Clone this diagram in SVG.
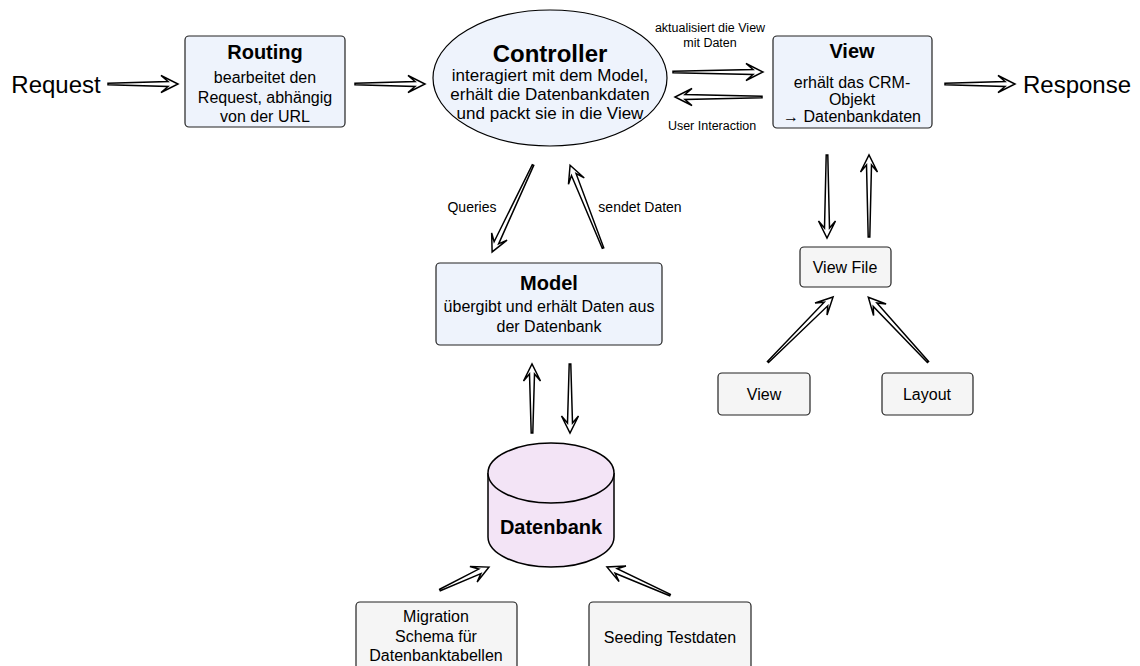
<svg xmlns="http://www.w3.org/2000/svg" width="1140" height="666" viewBox="0 0 1140 666">
<style>
text{font-family:"Liberation Sans",Arial,sans-serif;fill:#000;text-anchor:middle}
.t{font-size:20px;font-weight:bold}
.b{font-size:16px}
.s{font-size:14px}
.xs{font-size:12.5px}
.big{font-size:24px}
.blue{fill:#eef3fc;stroke:#222;stroke-width:1.2}
.gray{fill:#f5f5f5;stroke:#222;stroke-width:1.2}
.db{fill:#f3e4f6;stroke:#000;stroke-width:1.5}
.arr{fill:#fff;stroke:#000;stroke-width:1.5;stroke-linejoin:miter}
</style>
<defs>
<polygon id="a70" class="arr" points="0,-0.8 60,-2.5 53,-8.5 70,0 53,8.5 60,2.5 0,0.8"/>
</defs>
<rect width="1140" height="666" fill="#fff"/>
<g id="connectors">
<use href="#a70" transform="translate(108,84)"/>
<use href="#a70" transform="translate(355,84)"/>
<use href="#a70" transform="translate(945,84)"/>
<polygon class="arr" transform="translate(673,72)" points="0,-0.8 80,-2.5 73,-8.5 90,0 73,8.5 80,2.5 0,0.8"/>
<polygon class="arr" transform="translate(762,97) rotate(180)" points="0,-0.8 77,-2.5 70,-8.5 87,0 70,8.5 77,2.5 0,0.8"/>
<polygon class="arr" transform="translate(533,165) rotate(115.2)" points="0,-0.8 86,-2.5 79,-8.5 96,0 79,8.5 86,2.5 0,0.8"/>
<polygon class="arr" transform="translate(603,248) rotate(-111.7)" points="0,-0.8 79,-2.5 72,-8.5 89,0 72,8.5 79,2.5 0,0.8"/>
<polygon class="arr" transform="translate(532,433) rotate(-90)" points="0,-0.8 59,-2.5 52,-8.5 69,0 52,8.5 59,2.5 0,0.8"/>
<polygon class="arr" transform="translate(570,364) rotate(90)" points="0,-0.8 59,-2.5 52,-8.5 69,0 52,8.5 59,2.5 0,0.8"/>
<polygon class="arr" transform="translate(440,590) rotate(-25.1)" points="0,-0.8 44,-2.5 37,-8.5 54,0 37,8.5 44,2.5 0,0.8"/>
<polygon class="arr" transform="translate(670,595) rotate(204)" points="0,-0.8 59,-2.5 52,-8.5 69,0 52,8.5 59,2.5 0,0.8"/>
<polygon class="arr" transform="translate(827,155) rotate(90)" points="0,-0.8 73,-2.5 66,-8.5 83,0 66,8.5 73,2.5 0,0.8"/>
<polygon class="arr" transform="translate(869,237) rotate(-90)" points="0,-0.8 72,-2.5 65,-8.5 82,0 65,8.5 72,2.5 0,0.8"/>
<polygon class="arr" transform="translate(768,362) rotate(-45)" points="0,-0.8 82,-2.5 75,-8.5 92,0 75,8.5 82,2.5 0,0.8"/>
<polygon class="arr" transform="translate(928,362) rotate(-132.7)" points="0,-0.8 78,-2.5 71,-8.5 88,0 71,8.5 78,2.5 0,0.8"/>
<text class="xs" x="710" y="32">aktualisiert die View</text>
<text class="xs" x="710" y="47">mit Daten</text>
<text class="xs" x="712" y="130">User Interaction</text>
<text class="s" x="472" y="212">Queries</text>
<text class="s" x="640" y="212">sendet Daten</text>
</g>
<g id="request"><text class="big" x="56" y="93">Request</text></g>
<g id="response"><text class="big" x="1077" y="93">Response</text></g>
<g id="routing">
<rect class="blue" x="185" y="36" width="160" height="91" rx="4"/>
<text class="t" x="265" y="59">Routing</text>
<text class="b" x="265" y="83">bearbeitet den</text>
<text class="b" x="265" y="103">Request, abhängig</text>
<text class="b" x="265" y="122">von der URL</text>
</g>
<g id="controller">
<ellipse class="blue" cx="550" cy="78" rx="117" ry="68" style="stroke:#000"/>
<text x="550" y="62" style="font-size:24px;font-weight:bold">Controller</text>
<text x="550" y="81" style="font-size:17px">interagiert mit dem Model,</text>
<text x="550" y="100" style="font-size:17px">erhält die Datenbankdaten</text>
<text x="550" y="119" style="font-size:17px">und packt sie in die View</text>
</g>
<g id="view">
<rect class="blue" x="773" y="36" width="159" height="92" rx="4"/>
<text class="t" x="852" y="58">View</text>
<text class="b" x="852" y="88">erhält das CRM-</text>
<text class="b" x="852" y="105">Objekt</text>
<text class="b" x="852" y="122">→ Datenbankdaten</text>
</g>
<g id="model">
<rect class="blue" x="436" y="263" width="226" height="82" rx="4"/>
<text class="t" x="549" y="290">Model</text>
<text class="b" x="549" y="312">übergibt und erhält Daten aus</text>
<text class="b" x="549" y="332">der Datenbank</text>
</g>
<g id="datenbank">
<path class="db" d="M488,473 A63,30 0 0 1 614,473 L614,537 A63,30 0 0 1 488,537 Z"/>
<path class="db" d="M488,473 A63,30 0 0 0 614,473" fill="none"/>
<text x="551" y="534" style="font-size:20px;font-weight:bold">Datenbank</text>
</g>
<g id="migration">
<rect class="gray" x="356" y="602" width="161" height="70" rx="4"/>
<text class="b" x="436" y="622">Migration</text>
<text class="b" x="436" y="642">Schema für</text>
<text class="b" x="436" y="661">Datenbanktabellen</text>
</g>
<g id="seeding">
<rect class="gray" x="589" y="602" width="162" height="70" rx="4"/>
<text class="b" x="670" y="643">Seeding Testdaten</text>
</g>
<g id="viewfile">
<rect class="gray" x="800" y="247" width="91" height="40" rx="4"/>
<text class="b" x="845" y="273">View File</text>
</g>
<g id="viewsmall">
<rect class="gray" x="718" y="373" width="92" height="42" rx="4"/>
<text class="b" x="764" y="400">View</text>
</g>
<g id="layout">
<rect class="gray" x="882" y="373" width="91" height="42" rx="4"/>
<text class="b" x="927" y="400">Layout</text>
</g>
</svg>
